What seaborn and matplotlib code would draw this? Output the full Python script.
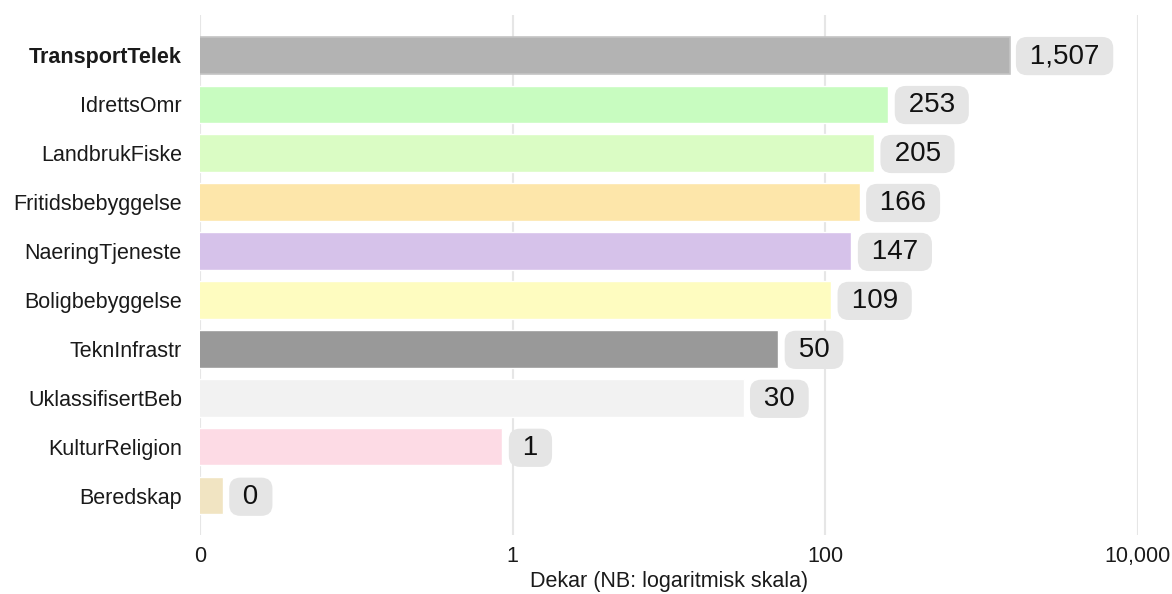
import matplotlib
matplotlib.use("Agg")
import matplotlib.pyplot as plt
import seaborn as sns
import pandas as pd

# data (dekar, log axis where "0" sits at 0.01)
categories = ["TransportTelek", "IdrettsOmr", "LandbrukFiske", "Fritidsbebyggelse",
              "NaeringTjeneste", "Boligbebyggelse", "TeknInfrastr", "UklassifisertBeb",
              "KulturReligion", "Beredskap"]
values = [1507, 253, 205, 166, 147, 109, 50, 30, 0.86, 0.014]
colors = ["#b3b3b3", "#c8fcc0", "#dafcc4", "#fde6aa", "#d6c2ea",
          "#fefcc0", "#999999", "#f2f2f2", "#fddbe5", "#f1e4c2"]
tick_values = [0.01, 1, 100, 10000]
tick_labels = ["0", "1", "100", "10,000"]

sns.set_style("white")
plt.rcParams["font.family"] = ["Liberation Sans", "DejaVu Sans"]

df = pd.DataFrame({"kategori": categories, "dekar": values})

fig = plt.figure(figsize=(11.72, 5.94), dpi=100)
ax = fig.add_axes([200 / 1172, 1 - 535 / 594, 938 / 1172, 520 / 594])
ax.set_xscale("log")
ax.xaxis.grid(True, color="#e6e6e6", linewidth=1.5)
ax.set_axisbelow(True)

sns.barplot(data=df, x="dekar", y="kategori", hue="kategori", palette=colors,
            saturation=1, legend=False, orient="h", width=0.76, ax=ax, zorder=2)
ax.patches[0].set_edgecolor("#c4c4c4")
ax.patches[0].set_linewidth(1.2)

ax.set_xlim(0.01, 10000)
ax.set_ylim(9.8, -0.82)
ax.set_xticks(tick_values)
ax.set_xticklabels(tick_labels)
ax.minorticks_off()
ax.tick_params(axis="x", labelsize=15.5, colors="#1a1a1a", length=0, pad=8)
ax.tick_params(axis="y", labelsize=15.5, colors="#1a1a1a", length=0, pad=13)
ax.get_yticklabels()[0].set_fontweight("bold")
ax.set_xlabel("Dekar (NB: logaritmisk skala)", fontsize=15.5, color="#1a1a1a", labelpad=3)
ax.set_ylabel("")
sns.despine(left=True, bottom=True)

for i, v in enumerate(values):
    ax.annotate(f" {round(v):,} ", xy=(v, i), xytext=(9, 1.5), textcoords="offset points",
                ha="left", va="center_baseline", fontsize=20, color="#111111", zorder=3,
                bbox=dict(boxstyle="round,pad=0.22,rounding_size=0.4", fc="#e5e5e5", ec="none"))

fig.savefig("out.png", dpi=100)
